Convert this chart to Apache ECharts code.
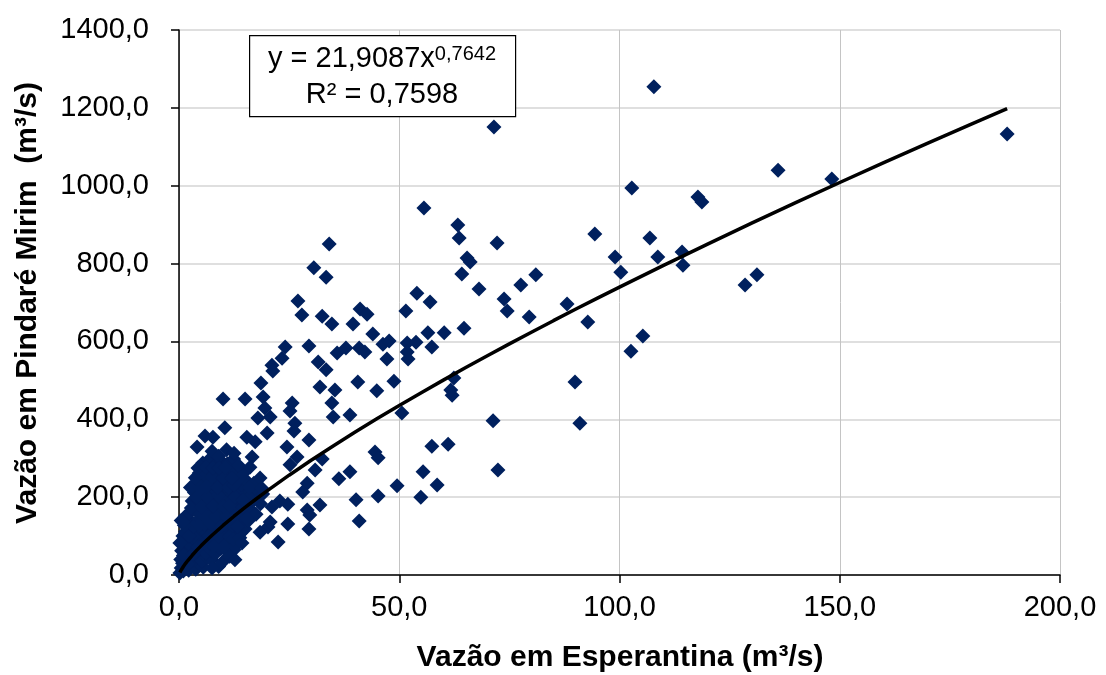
<!DOCTYPE html>
<html>
<head>
<meta charset="utf-8">
<script src="https://cdn.jsdelivr.net/npm/echarts@6/dist/echarts.min.js"></script>
<style>
html,body{margin:0;padding:0;background:#fff;}
#chart{width:1106px;height:675px;}
</style>
</head>
<body>
<div id="chart"></div>
<script>
// Axis ticks
const xTicks = [0, 50, 100, 150, 200];
const yTicks = [0, 200, 400, 600, 800, 1000, 1200, 1400];

// Scattered points (Vazão em Esperantina, Vazão em Pindaré Mirim)
const pontosDispersos = [
[107.8,1254],[188.0,1133],[71.5,1151],[136.0,1040],[148.2,1017],[102.8,994],[117.8,971],[118.7,958],[55.6,943],[94.4,876],
[106.9,866],[63.3,899],[63.6,866],[72.2,853],[65.4,814],[66.1,804],[64.2,773],[99.0,817],[100.3,778],[108.7,817],
[114.2,830],[114.4,796],[131.2,771],[128.5,745],[105.3,614],[102.6,575],[68.1,735],[73.8,709],[74.5,678],[77.6,745],
[81.0,771],[79.5,663],[88.1,696],[92.8,650],[89.9,496],[91.0,390],[71.3,396],[72.4,270],[62.0,462],[62.4,506],
[61.7,475],[61.1,336],[57.4,331],[58.6,231],[55.4,265],[54.9,200],[50.6,416],[54.0,724],[57.0,701],[51.5,678],
[56.5,622],[60.2,622],[64.7,634],[57.4,586],[51.8,596],[53.8,598],[51.8,573],[52.0,555],[49.5,229],[45.2,203],
[44.5,316],[45.2,301],[38.8,265],[36.3,247],[40.2,193],[40.9,139],[35.0,406],[38.8,411],[44.0,619],[46.3,593],
[47.7,601],[44.9,473],[48.8,498],[40.6,496],[34.7,442],[32.0,483],[35.4,475],[35.9,570],[37.9,583],[40.9,583],
[42.2,573],[47.2,555],[29.5,588],[31.6,547],[33.4,527],[34.1,850],[30.6,789],[33.4,765],[27.0,704],[27.9,668],
[32.5,665],[34.7,645],[39.5,645],[41.1,683],[42.7,670],[24.1,586],[23.4,557],[21.1,539],[21.3,524],[18.6,493],
[15.0,452],[10.0,452],[19.1,457],[19.5,429],[25.7,442],[25.2,421],[17.9,403],[20.7,406],[26.3,390],[26.1,370],
[20.0,365],[15.4,354],[17.3,342],[29.5,347],[24.5,329],[26.8,303],[32.5,298],[25.2,283],[30.9,270],[16.6,303],
[16.1,277],[29.1,236],[28.1,213],[18.4,249],[18.8,223],[22.9,190],[21.1,175],[24.7,182],[29.1,167],[32.0,180],
[29.7,154],[29.5,118],[24.7,131],[22.5,85],[20.2,123],[14.5,193],[20.7,136],[18.4,110],[15.4,146],[14.3,82],
[12.7,39],[5.9,357],[7.7,354],[4.1,329],[10.4,378],[12.5,313],[0.9,136],[0.2,82]
];

// Dense cluster near the origin
const pontosAglomerado = [
[0.2,5],[0.5,18],[1.0,10],[1.6,22],[2.2,12],[3.0,25],[3.8,15],[4.6,28],[5.5,20],[0.8,30],
[0.4,40],[1.3,35],[2.5,42],[3.4,38],[4.2,48],[5.3,36],[6.5,45],[7.4,40],
[0.6,62],[1.8,58],[2.8,66],[4.0,60],[5.0,70],[6.1,57],[7.2,64],[8.3,55],[9.5,68],[11.0,60],[12.5,65],
[1.2,88],[2.3,80],[3.5,92],[4.8,85],[6.0,95],[7.0,82],[8.1,90],[9.3,84],[10.5,93],[11.8,86],[13.0,78],
[1.5,112],[2.7,118],[3.9,106],[5.2,115],[6.3,108],[7.6,120],[8.8,110],[10.0,117],[11.2,105],[12.6,114],[14.0,108],[15.0,118],
[2.0,140],[3.2,133],[4.4,142],[5.7,130],[6.8,145],[8.0,136],[9.2,141],[10.4,130],[11.6,138],[13.0,144],[14.4,132],[15.8,140],
[2.4,160],[3.6,168],[4.9,158],[6.0,165],[7.3,156],[8.5,170],[9.7,160],[11.0,167],[12.2,155],[13.5,163],[15.0,158],[16.5,166],[17.5,156],
[3.0,190],[4.3,182],[5.5,192],[6.7,185],[8.0,195],[9.2,180],[10.5,188],[11.7,196],[13.0,184],[14.2,191],[15.6,186],[17.0,194],[18.5,183],
[3.5,212],[4.8,205],[6.0,218],[7.2,208],[8.5,215],[9.8,206],[11.0,220],[12.3,210],[13.6,216],[15.0,207],[16.3,214],[17.8,218],[19.0,208],
[4.0,238],[5.3,232],[6.6,244],[7.9,235],[9.1,241],[10.3,230],[11.6,239],[12.9,245],[14.2,233],[15.5,240],[17.0,236],
[4.6,262],[5.9,256],[7.2,268],[8.4,258],[9.7,265],[11.0,260],[12.3,270],[13.6,257],[14.8,264],
[5.4,288],[6.8,296],[8.2,284],[9.6,292],[11.0,286],[12.4,298],[13.5,282],
[7.5,318],[9.0,305],[10.8,322],
[1.0,50],[2.0,28],[3.2,55],[4.4,72],[5.8,82],[6.9,100],[8.0,75],[9.0,98],[10.1,72],[11.5,99],[12.3,92],[13.8,96],
[0.9,100],[2.2,100],[3.3,125],[4.6,128],[5.9,150],[7.1,133],[8.3,150],[9.6,125],[10.8,150],[12.1,128],[13.3,125],
[1.4,150],[2.8,172],[4.0,200],[5.1,175],[6.4,200],[7.7,178],[8.9,205],[10.1,176],[11.5,178],[12.7,200],[14.6,175],[16.0,200],
[2.6,225],[3.7,250],[5.0,222],[6.3,228],[7.5,252],[8.7,225],[10.0,250],[11.3,225],[12.5,232],[13.9,250],[16.0,225],
[4.3,275],[6.1,278],[7.8,275],[9.0,275],[10.5,276],[12.0,250],
[0.5,140],[1.2,128],[10.0,35],[11.5,48],[9.0,22],[7.5,18]
];

// Power trend line (y = 21,9087x^0,7642)
const linhaTendencia = [
[0.2,6.4],[0.5,12.9],[0.75,17.6],[1,21.9],[1.5,29.9],[2,37.2],[3,50.7],[4,63.2],[5,74.9],[6,86.2],[7.5,102.2],
[10,127.3],[12.5,151.0],[15,173.5],[17.5,195.2],[20,216.2],[25,256.4],[30,294.8],[35,331.6],[40,367.2],[45,401.8],
[50,435.5],[55,468.4],[60,500.6],[65,532.2],[70,563.3],[75,593.7],[80,623.7],[85,653.3],[90,682.5],[95,711.2],
[100,739.6],[110,795.5],[120,850.1],[130,904.0],[140,956.5],[150,1008.3],[160,1059.3],[170,1109.5],[180,1159.0],[188,1198.2]
];

const equacaoTexto = 'y = 21,9087x';
const expoenteTexto = '0,7642';
const r2Texto = 'R² = 0,7598';
const xTitulo = 'Vazão em Esperantina (m³/s)';
const yTitulo = 'Vazão em Pindaré Mirim  (m³/s)';

const FONT = 'Liberation Sans, Arial, sans-serif';
const fmt = v => v.toFixed(1).replace('.', ',');
const MARK = '#00205e';

const chart = echarts.init(document.getElementById('chart'), null, {renderer: 'canvas'});
chart.setOption({
  animation: false,
  backgroundColor: '#ffffff',
  grid: {left: 179, right: 46, top: 30, bottom: 100, containLabel: false},
  xAxis: {
    type: 'value', min: xTicks[0], max: xTicks[xTicks.length - 1], interval: 50,
    axisLine: {show: true, onZero: false, lineStyle: {color: '#000', width: 1.5}},
    axisTick: {show: true, inside: false, length: 8, lineStyle: {color: '#000', width: 1.5}},
    axisLabel: {formatter: fmt, color: '#000', fontSize: 29, fontFamily: FONT, margin: 18},
    splitLine: {show: true, lineStyle: {color: '#c4c4c4', width: 1}}
  },
  yAxis: {
    type: 'value', min: yTicks[0], max: yTicks[yTicks.length - 1], interval: 200,
    axisLine: {show: true, onZero: false, lineStyle: {color: '#000', width: 1.5}},
    axisTick: {show: true, inside: false, length: 8, lineStyle: {color: '#000', width: 1.5}},
    axisLabel: {formatter: fmt, color: '#000', fontSize: 29, fontFamily: FONT, margin: 30},
    splitLine: {show: true, lineStyle: {color: '#d4d4d4', width: 1.5}}
  },
  series: [
    {
      type: 'scatter', data: pontosAglomerado, symbol: 'diamond', symbolSize: 15, clip: false,
      itemStyle: {color: MARK, opacity: 1}
    },
    {
      type: 'scatter', data: pontosDispersos, symbol: 'diamond', symbolSize: 15, clip: false,
      itemStyle: {color: MARK, opacity: 1}
    },
    {
      type: 'line', data: linhaTendencia, showSymbol: false, smooth: false,
      lineStyle: {color: '#000', width: 3.5}, z: 5
    }
  ],
  graphic: [
    {type: 'rect', left: 249, top: 35, shape: {width: 266, height: 81},
     style: {fill: '#fff', stroke: '#000', lineWidth: 1.2}, z: 10},
    {type: 'text', x: 382, y: 59, z: 11,
     style: {text: '{a|' + equacaoTexto + '}{b|' + expoenteTexto + '}', textAlign: 'center', textVerticalAlign: 'middle',
       rich: {a: {fontSize: 29, fontFamily: FONT, fill: '#000', color: '#000'},
              b: {fontSize: 20, fontFamily: FONT, fill: '#000', color: '#000', verticalAlign: 'top'}}}},
    {type: 'text', x: 382, y: 95, z: 11,
     style: {text: r2Texto, textAlign: 'center', textVerticalAlign: 'middle', fontSize: 29, fontFamily: FONT, fill: '#000'}},
    {type: 'text', x: 620, y: 658, z: 11,
     style: {text: xTitulo, textAlign: 'center', textVerticalAlign: 'middle', fontSize: 30, fontWeight: 'bold', fontFamily: FONT, fill: '#000'}},
    {type: 'text', x: 28, y: 303, rotation: Math.PI / 2, z: 11,
     style: {text: yTitulo, textAlign: 'center', textVerticalAlign: 'middle', fontSize: 30, fontWeight: 'bold', fontFamily: FONT, fill: '#000'}}
  ]
});
</script>
</body>
</html>
